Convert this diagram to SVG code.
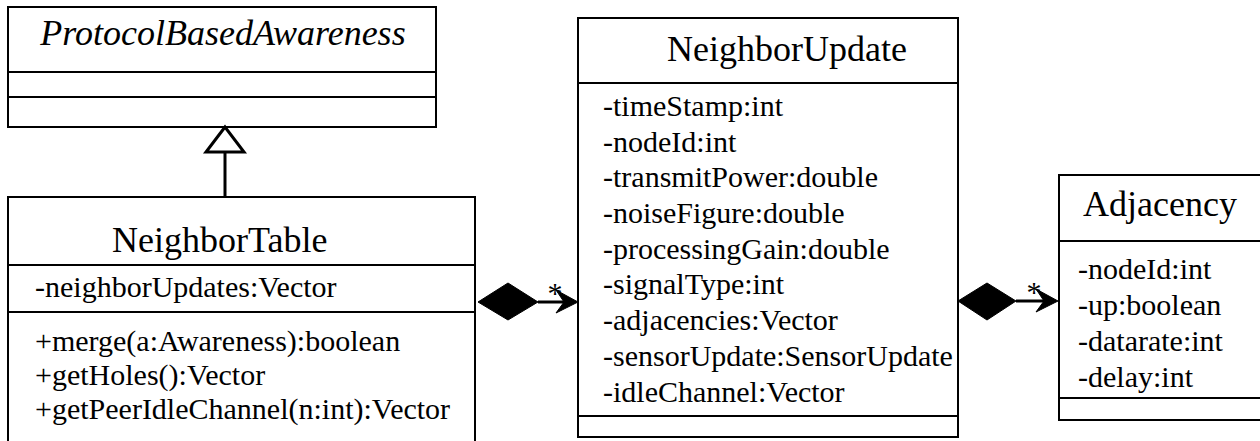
<svg xmlns="http://www.w3.org/2000/svg" width="1260" height="441" viewBox="0 0 1260 441" font-family="'Liberation Serif', 'DejaVu Serif', serif">
<style>
.box{fill:#fff;stroke:#000;stroke-width:2}
.div{stroke:#000;stroke-width:2}
.t{font-family:'Liberation Serif', 'DejaVu Serif', serif;fill:#000}
.title{font-size:36px}
.attr{font-size:30px}
.conn{stroke:#000;stroke-width:3;fill:none}
.fill{fill:#000;stroke:#000;stroke-width:1}
</style>
<rect width="1260" height="441" fill="#fff"/>
<g id="ProtocolBasedAwareness">
<rect class="box" x="8" y="7" width="428" height="120"/>
<line class="div" x1="8" y1="72" x2="436" y2="72"/>
<line class="div" x1="8" y1="97" x2="436" y2="97"/>
<text class="t title" x="223" y="45" text-anchor="middle" font-style="italic">ProtocolBasedAwareness</text>
</g>
<g id="NeighborTable">
<rect class="box" x="8" y="197" width="467" height="260"/>
<line class="div" x1="8" y1="265" x2="475" y2="265"/>
<line class="div" x1="8" y1="312" x2="475" y2="312"/>
<text class="t title" x="112" y="252">NeighborTable</text>
<text class="t attr" x="35" y="297">-neighborUpdates:Vector</text>
<text class="t attr" x="35" y="351">+merge(a:Awareness):boolean</text>
<text class="t attr" x="35" y="385">+getHoles():Vector</text>
<text class="t attr" x="35" y="419">+getPeerIdleChannel(n:int):Vector</text>
</g>
<g id="NeighborUpdate">
<rect class="box" x="578" y="18" width="380" height="419"/>
<line class="div" x1="578" y1="83" x2="958" y2="83"/>
<line class="div" x1="578" y1="416" x2="958" y2="416"/>
<text class="t title" x="667" y="61">NeighborUpdate</text>
<text class="t attr" x="603" y="116">-timeStamp:int</text>
<text class="t attr" x="603" y="152">-nodeId:int</text>
<text class="t attr" x="603" y="187">-transmitPower:double</text>
<text class="t attr" x="603" y="223">-noiseFigure:double</text>
<text class="t attr" x="603" y="259">-processingGain:double</text>
<text class="t attr" x="603" y="294">-signalType:int</text>
<text class="t attr" x="603" y="330">-adjacencies:Vector</text>
<text class="t attr" x="603" y="366">-sensorUpdate:SensorUpdate</text>
<text class="t attr" x="603" y="402">-idleChannel:Vector</text>
</g>
<g id="Adjacency">
<rect class="box" x="1059" y="175" width="215" height="245"/>
<line class="div" x1="1059" y1="241" x2="1274" y2="241"/>
<line class="div" x1="1059" y1="398" x2="1274" y2="398"/>
<text class="t title" x="1083" y="216">Adjacency</text>
<text class="t attr" x="1078" y="279">-nodeId:int</text>
<text class="t attr" x="1078" y="315">-up:boolean</text>
<text class="t attr" x="1078" y="351">-datarate:int</text>
<text class="t attr" x="1078" y="387">-delay:int</text>
</g>
<g id="connectors">
<line class="conn" x1="225" y1="152" x2="225" y2="197"/>
<polygon points="225,127 206,152 244,152" fill="#fff" stroke="#000" stroke-width="3"/>
<polygon class="fill" points="478,302 508,283 538,302 508,320"/>
<line class="conn" x1="538" y1="302" x2="568" y2="302"/>
<polygon class="fill" points="578,302 556,290 564,302 556,313"/>
<text class="t attr" x="555" y="303" text-anchor="middle">*</text>
<polygon class="fill" points="958,301 987,283 1016,301 987,320"/>
<line class="conn" x1="1016" y1="301" x2="1048" y2="301"/>
<polygon class="fill" points="1058,301 1036,289 1044,301 1036,312"/>
<text class="t attr" x="1034" y="302" text-anchor="middle">*</text>
</g>
</svg>
